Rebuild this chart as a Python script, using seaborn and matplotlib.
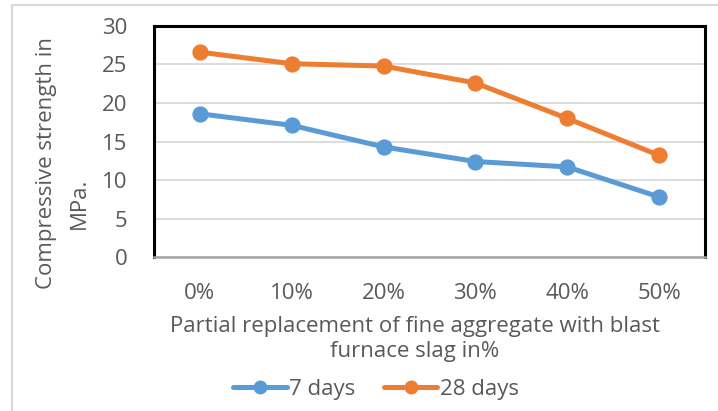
import matplotlib
matplotlib.use("Agg")
import matplotlib.pyplot as plt
import seaborn as sns
import pandas as pd
from matplotlib.lines import Line2D

# data
replacement = ["0%", "10%", "20%", "30%", "40%", "50%"]
days_7 = [18.6, 17.1, 14.3, 12.4, 11.7, 7.8]
days_28 = [26.6, 25.1, 24.8, 22.6, 18.0, 13.2]

df = pd.DataFrame({
    "Replacement": replacement * 2,
    "Strength": days_7 + days_28,
    "Age": ["7 days"] * len(replacement) + ["28 days"] * len(replacement),
})

sns.set_style("white")
plt.rcParams["font.family"] = ["Open Sans", "DejaVu Sans"]

palette = {"7 days": "#5B9BD5", "28 days": "#ED7D31"}
text_col = "#595959"
fs = 16

fig = plt.figure(figsize=(7.18, 4.11), dpi=100)
W, H = 718, 411
ax = fig.add_axes([154 / W, 1 - 257 / H, (705 - 154) / W, (257 - 26) / H])

sns.pointplot(
    data=df, x="Replacement", y="Strength", hue="Age",
    order=replacement, hue_order=["7 days", "28 days"],
    palette=palette, markers="o", linestyles="-",
    markersize=9, linewidth=3.6, ax=ax, legend=False,
)

ax.set_ylim(0, 30)
ax.set_yticks(range(0, 31, 5))
ax.set_xlim(-0.5, 5.5)
ax.yaxis.grid(True, color="#D9D9D9", linewidth=1.3)
ax.set_axisbelow(True)
ax.tick_params(axis="both", length=0, labelsize=fs, colors=text_col)
ax.tick_params(axis="y", pad=19)
ax.tick_params(axis="x", pad=19)
ax.set_xlabel("")
ax.set_ylabel("")

for side in ["left", "top", "right"]:
    ax.spines[side].set_color("black")
    ax.spines[side].set_linewidth(2.2)
ax.spines["bottom"].set_color("#A6A6A6")
ax.spines["bottom"].set_linewidth(1.8)

# axis titles
fig.text(47 / W, 1 - 163 / H, "Compressive strength in", rotation=90,
         ha="center", va="center", fontsize=fs, color=text_col)
fig.text(79 / W, 1 - 203 / H, "MPa.", rotation=90,
         ha="center", va="center", fontsize=fs, color=text_col)
fig.text(415 / W, 1 - 339 / H,
         "Partial replacement of fine aggregate with blast\nfurnace slag in%",
         ha="center", va="center", fontsize=fs, color=text_col, linespacing=1.2)

# legend
handles = [
    Line2D([], [], color=palette[k], marker="o", markersize=9, linewidth=3.6, label=k)
    for k in ["7 days", "28 days"]
]
fig.legend(handles=handles, loc="center", bbox_to_anchor=(376 / W, 1 - 389 / H),
           ncol=2, frameon=False, fontsize=fs, handlelength=2.4, handletextpad=0.1,
           columnspacing=1.3, labelcolor=text_col)

# chart-area border (light grey)
fig.add_artist(Line2D([12 / W, 12 / W], [0, 1 - 5 / H], color="#D9D9D9", linewidth=1.5,
                      transform=fig.transFigure))
fig.add_artist(Line2D([12 / W, 1], [1 - 5 / H, 1 - 5 / H], color="#D9D9D9", linewidth=1.5,
                      transform=fig.transFigure))

fig.savefig("out.png", dpi=100)
